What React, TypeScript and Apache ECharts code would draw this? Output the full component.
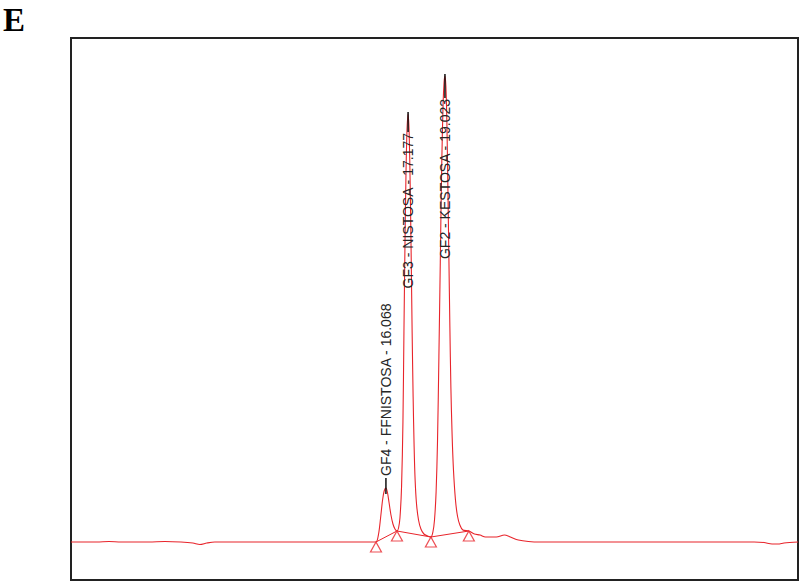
import React, { useEffect, useRef } from "react";
import * as echarts from "echarts";

// Chromatogram trace: retention time (min) and detector signal (arbitrary units)
const traceTime = [
  0.3, 1.6, 2.2, 2.8, 4.2, 5.0, 5.8, 6.4, 6.75, 7.1, 7.5, 12.0, 13.5, 15.27,
  15.57, 15.7, 15.8, 15.9, 15.98, 16.068, 16.14, 16.22, 16.32, 16.42, 16.52, 16.62,
  16.7, 16.77, 16.85, 16.92, 16.97, 17.02, 17.07, 17.12, 17.177, 17.23, 17.28, 17.33,
  17.38, 17.43, 17.48, 17.53, 17.6, 17.7, 17.82, 17.97, 18.15, 18.32,
  18.42, 18.5, 18.58, 18.65, 18.72, 18.79, 18.86, 18.93, 18.98, 19.023, 19.07, 19.12,
  19.17, 19.22, 19.27, 19.32, 19.38, 19.45, 19.55, 19.65, 19.77, 19.92, 20.22,
  20.5, 20.78, 21.05, 21.3, 21.6, 22.0, 22.3, 22.7, 23.2, 23.8, 30.0, 34.5, 35.0,
  35.4, 35.7, 36.0, 36.7,
];
const traceSignal = [
  0, 0, 0.5, 0, 0, 0.5, 0, -1, -2.5, -1, 0, 0, 0, 0,
  0, 8, 24, 42, 51, 54, 50, 40, 27, 18, 13, 11,
  14, 24, 55, 120, 210, 295, 365, 410, 428, 410, 360, 290,
  210, 145, 95, 62, 38, 22, 13, 8, 6, 5,
  10, 22, 50, 100, 185, 280, 375, 438, 460, 466, 456, 420,
  355, 285, 215, 155, 108, 72, 42, 26, 17, 12, 11,
  8, 7, 5, 5, 5, 7, 5, 2, 0.5, 0, 0, 0, -0.5,
  -2, -2, -1, 0,
];

// Integration markers (peak start / end)
const markerTimes = [15.57, 16.62, 18.32, 20.22];
const markerSignals = [0, 11, 5, 11];

// Peaks
const peakNames = ["GF4 - FFNISTOSA", "GF3 - NISTOSA", "GF2 - KESTOSA"];
const peakTimes = [16.068, 17.177, 19.023];
const peakHeights = [54, 428, 466];
const peakLabelAbove = [true, false, false];
const peakLabelGap = [12, 19, 23];

const panelLetter = "E";

const RED = "#e8242b";

export default function App() {
  const ref = useRef<HTMLDivElement>(null);

  useEffect(() => {
    if (!ref.current) return;
    const chart = echarts.init(ref.current, null, { renderer: "svg" });
    const trace = traceTime.map((t, i) => [t, traceSignal[i]]);
    const markers = markerTimes.map((t, i) => [t, markerSignals[i]]);

    chart.setOption({
      animation: false,
      backgroundColor: "#ffffff",
      grid: {
        left: 71,
        top: 38,
        right: 1,
        bottom: 2,
        show: true,
        borderColor: "#222222",
        borderWidth: 2,
        backgroundColor: "transparent",
      },
      xAxis: {
        type: "value",
        min: 0.3,
        max: 36.7,
        show: false,
        splitLine: { show: false },
      },
      yAxis: {
        type: "value",
        min: -38,
        max: 504,
        show: false,
        splitLine: { show: false },
      },
      series: [
        {
          type: "line",
          data: markers,
          symbol: "none",
          lineStyle: { color: RED, width: 1 },
          silent: true,
          z: 2,
        },
        {
          type: "line",
          data: trace,
          symbol: "none",
          smooth: 0.3,
          lineStyle: { color: RED, width: 1.1 },
          silent: true,
          z: 3,
        },
        {
          type: "scatter",
          data: markers,
          symbol: "triangle",
          symbolSize: [11, 10],
          symbolOffset: [0, 5],
          itemStyle: { color: "#ffffff", borderColor: RED, borderWidth: 1.2 },
          silent: true,
          z: 4,
        },
      ],
    });

    const graphics: any[] = [
      {
        type: "text",
        x: 3,
        y: 20,
        style: {
          text: panelLetter,
          font: 'bold 33px "Liberation Serif", "DejaVu Serif", serif',
          fill: "#000000",
          align: "left",
          textAlign: "left",
          verticalAlign: "middle",
          textVerticalAlign: "middle",
        },
      },
    ];

    peakTimes.forEach((t, i) => {
      const p = chart.convertToPixel({ gridIndex: 0 }, [t, peakHeights[i]]) as number[];
      const px = p[0];
      const py = p[1];
      const above = peakLabelAbove[i];
      const gap = peakLabelGap[i];
      const label = `${peakNames[i]} - ${t.toFixed(3)}`;
      graphics.push({
        type: "line",
        shape: above
          ? { x1: px, y1: py + 6, x2: px, y2: py - 10 }
          : { x1: px, y1: py - 2, x2: px, y2: py + gap - 1 },
        style: { stroke: "#111111", lineWidth: 1.5 },
        z: 10,
      });
      graphics.push({
        type: "text",
        x: px,
        y: above ? py - gap : py + gap,
        rotation: Math.PI / 2,
        style: {
          text: label,
          font: '14px "Liberation Sans", Arial, sans-serif',
          fill: "#262626",
          align: above ? "left" : "right",
          textAlign: above ? "left" : "right",
          verticalAlign: "middle",
          textVerticalAlign: "middle",
        },
        z: 10,
      });
    });

    chart.setOption({ graphic: graphics });

    return () => {
      chart.dispose();
    };
  }, []);

  return (
    <div
      ref={ref}
      style={{ position: "fixed", left: 0, top: 0, width: 799, height: 582, background: "#fff" }}
    />
  );
}
